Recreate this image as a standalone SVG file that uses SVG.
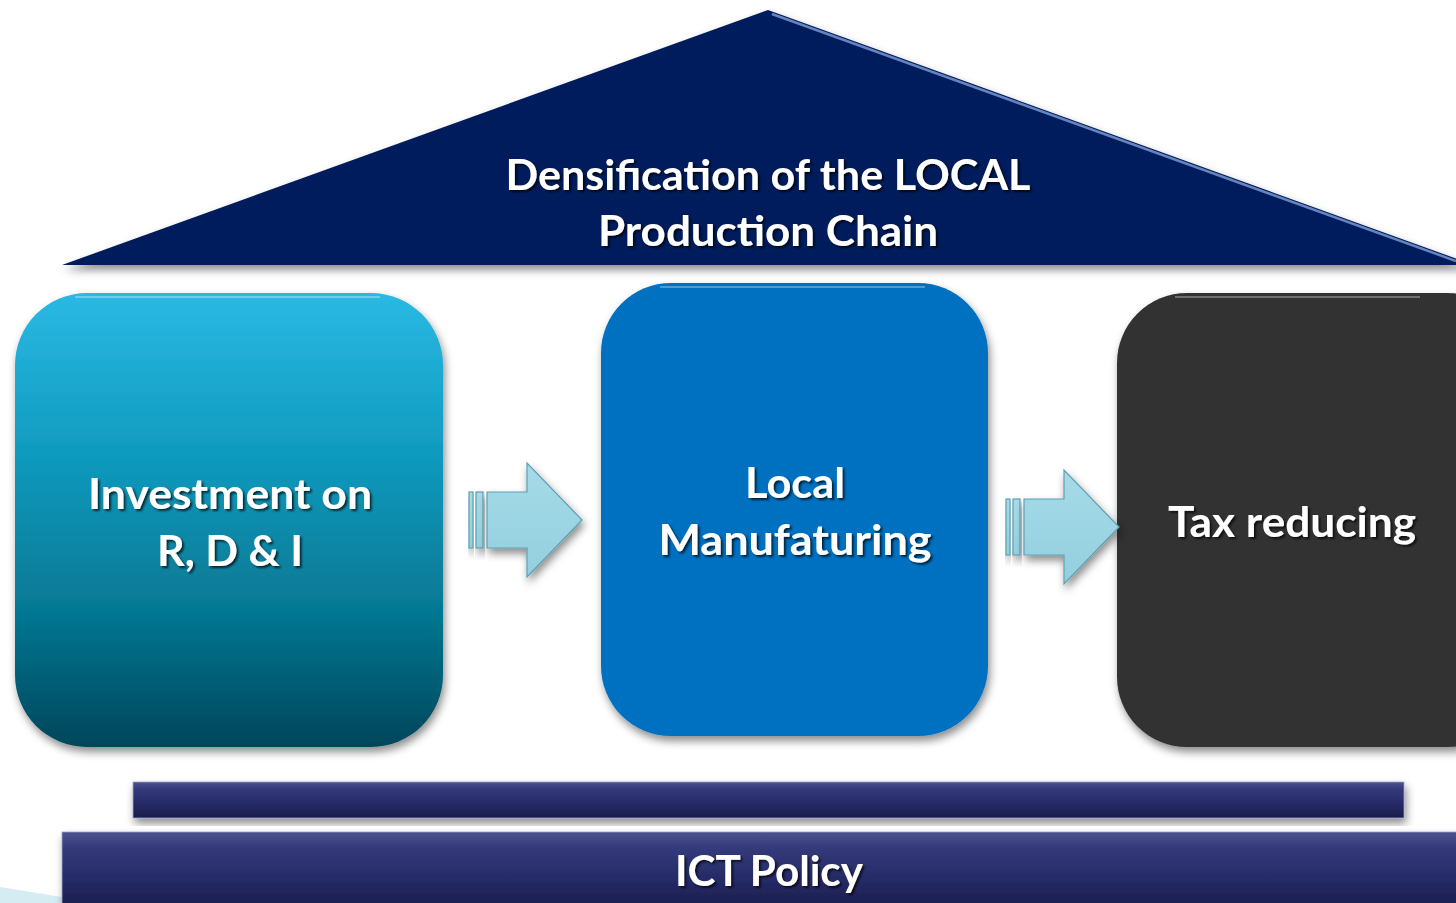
<svg xmlns="http://www.w3.org/2000/svg" width="1456" height="903" viewBox="0 0 1456 903">
<defs>
<linearGradient id="g1" x1="0" y1="0" x2="0" y2="1">
<stop offset="0" stop-color="#2ab9e3"/>
<stop offset="0.35" stop-color="#109bbf"/>
<stop offset="0.7" stop-color="#067893"/>
<stop offset="1" stop-color="#05465a"/>
</linearGradient>
<linearGradient id="gbar" x1="0" y1="0" x2="0" y2="1">
<stop offset="0" stop-color="#4d5291"/>
<stop offset="0.2" stop-color="#343a7a"/>
<stop offset="0.6" stop-color="#252a66"/>
<stop offset="1" stop-color="#1a1c48"/>
</linearGradient>
<linearGradient id="garr" x1="0" y1="0" x2="0" y2="1">
<stop offset="0" stop-color="#a6dbe8"/>
<stop offset="1" stop-color="#93cfdf"/>
</linearGradient>
<filter id="sh" x="-10%" y="-10%" width="130%" height="130%">
<feDropShadow dx="2" dy="5" stdDeviation="4" flood-color="#000" flood-opacity="0.45"/>
</filter>
<filter id="tsh" x="-5%" y="-20%" width="115%" height="150%">
<feDropShadow dx="2" dy="2" stdDeviation="1.2" flood-color="#000" flood-opacity="0.7"/>
</filter>
<style>
.t{font-family:Lato,"Open Sans","Liberation Sans",sans-serif;font-weight:bold;fill:#ffffff;text-anchor:middle;filter:url(#tsh)}
.hl{fill:none;stroke:#ffffff;stroke-opacity:0.3;stroke-width:2}
.arr{fill:url(#garr);stroke:#5f9fb3;stroke-width:1.2;filter:url(#sh)}
</style>
</defs>
<rect width="1456" height="903" fill="#ffffff"/>
<polygon points="0,887 62,897 62,903 0,903" fill="#d6ecf3"/>

<g id="roof">
<polygon points="62,265 768,10 1474,265" fill="#021f5c" filter="url(#sh)"/>
<path d="M772,14 L1456,261" stroke="#7e9fd8" stroke-width="2.5" fill="none" stroke-opacity="0.8"/>
<text class="t" x="768" y="190" font-size="42" textLength="525" lengthAdjust="spacingAndGlyphs">Densification of the LOCAL</text>
<text class="t" x="768" y="246" font-size="42" textLength="340" lengthAdjust="spacingAndGlyphs">Production Chain</text>
</g>

<g id="box1">
<rect x="15" y="293" width="428" height="454" rx="72" fill="url(#g1)" filter="url(#sh)"/>
<path class="hl" d="M75,297 L380,297"/>
<text class="t" x="230" y="509" font-size="42" textLength="284" lengthAdjust="spacingAndGlyphs">Investment on</text>
<text class="t" x="230" y="566" font-size="42" textLength="146" lengthAdjust="spacingAndGlyphs">R, D &amp; I</text>
</g>

<g id="box2">
<rect x="601" y="283" width="387" height="453" rx="70" fill="#0070c0" filter="url(#sh)"/>
<path class="hl" d="M660,287 L925,287"/>
<text class="t" x="795" y="498" font-size="42" textLength="100" lengthAdjust="spacingAndGlyphs">Local</text>
<text class="t" x="795" y="555" font-size="42" textLength="273" lengthAdjust="spacingAndGlyphs">Manufaturing</text>
</g>

<g id="box3">
<rect x="1117" y="293" width="400" height="454" rx="70" fill="#333333" filter="url(#sh)"/>
<path class="hl" d="M1175,297 L1420,297"/>
<text class="t" x="1292" y="537" font-size="42" textLength="248" lengthAdjust="spacingAndGlyphs">Tax reducing</text>
</g>

<g id="connectors">
<rect class="arr" x="469" y="492" width="4" height="56"/>
<rect class="arr" x="476" y="492" width="7" height="56"/>
<polygon class="arr" points="487,492 527,492 527,463 582,520 527,577 527,548 487,548"/>
<rect class="arr" x="1006" y="499" width="4" height="56"/>
<rect class="arr" x="1013" y="499" width="7" height="56"/>
<polygon class="arr" points="1024,499 1064,499 1064,470 1119,527 1064,584 1064,555 1024,555"/>
</g>

<g id="bar1">
<rect x="133" y="782" width="1271" height="36" fill="url(#gbar)" stroke="#9aa0c8" stroke-width="0.8" filter="url(#sh)"/>
</g>

<g id="ictpolicy">
<rect x="62" y="832" width="1420" height="80" fill="url(#gbar)" stroke="#9aa0c8" stroke-width="0.8" filter="url(#sh)"/>
<text class="t" x="769" y="886" font-size="42" textLength="188" lengthAdjust="spacingAndGlyphs">ICT Policy</text>
</g>
</svg>
